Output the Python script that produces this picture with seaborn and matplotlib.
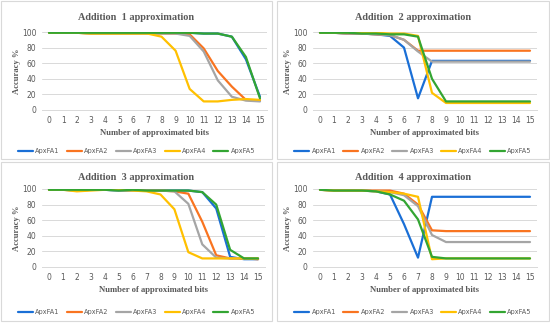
#!/usr/bin/env python3

import pandas as pd
import seaborn as sns
from matplotlib import pyplot as plt
from matplotlib.lines import Line2D
from matplotlib.patches import Rectangle

bits = list(range(16))
series_names = ["ApxFA1", "ApxFA2", "ApxFA3", "ApxFA4", "ApxFA5"]
panel_titles = ["Addition  1 approximation", "Addition  2 approximation",
                "Addition  3 approximation", "Addition  4 approximation"]
y_ticks = [0, 20, 40, 60, 80, 100]

# Addition 1
add1_fa1 = [99, 99, 99, 99, 99, 99, 99, 99, 99, 99, 99, 98, 98, 94, 65, 17]
add1_fa2 = [99, 99, 99, 98, 98, 98, 98, 98, 98, 98, 97, 79, 50, 30, 13, 12]
add1_fa3 = [99, 99, 99, 98, 98, 98, 98, 98, 98, 98, 95, 75, 38, 17, 12, 11]
add1_fa4 = [99, 99, 99, 98, 98, 98, 98, 98, 94, 76, 27, 11, 11, 13, 14, 13]
add1_fa5 = [99, 99, 99, 99, 99, 99, 99, 99, 99, 99, 99, 98, 98, 94, 68, 15]

# Addition 2
add2_fa1 = [99, 99, 98, 98, 97, 95, 80, 15, 63, 63, 63, 63, 63, 63, 63, 63]
add2_fa2 = [99, 99, 98, 98, 97, 96, 90, 76, 76, 76, 76, 76, 76, 76, 76, 76]
add2_fa3 = [99, 99, 98, 98, 97, 96, 90, 75, 62, 62, 62, 62, 62, 62, 62, 62]
add2_fa4 = [99, 99, 99, 99, 99, 98, 98, 95, 22, 9, 9, 9, 9, 9, 9, 9]
add2_fa5 = [99, 99, 99, 98, 98, 97, 97, 94, 40, 11, 11, 11, 11, 11, 11, 11]

# Addition 3
add3_fa1 = [99, 99, 98, 99, 99, 98, 98, 98, 98, 98, 98, 96, 75, 13, 10, 10]
add3_fa2 = [99, 99, 99, 99, 99, 99, 99, 98, 98, 97, 94, 58, 15, 11, 11, 10]
add3_fa3 = [99, 99, 98, 99, 99, 98, 98, 98, 98, 97, 81, 29, 12, 11, 11, 11]
add3_fa4 = [99, 99, 97, 98, 99, 99, 98, 97, 93, 74, 19, 11, 11, 11, 11, 11]
add3_fa5 = [99, 99, 99, 99, 99, 98, 99, 98, 98, 98, 98, 96, 80, 22, 11, 11]

# Addition 4
add4_fa1 = [99, 99, 99, 98, 97, 93, 55, 12, 90, 90, 90, 90, 90, 90, 90, 90]
add4_fa2 = [99, 98, 98, 98, 98, 98, 94, 80, 47, 46, 46, 46, 46, 46, 46, 46]
add4_fa3 = [99, 98, 98, 98, 97, 96, 92, 78, 41, 32, 32, 32, 32, 32, 32, 32]
add4_fa4 = [99, 98, 98, 98, 97, 96, 94, 90, 10, 11, 11, 11, 11, 11, 11, 11]
add4_fa5 = [99, 98, 98, 98, 97, 93, 85, 61, 13, 11, 11, 11, 11, 11, 11, 11]

panels = [
    [add1_fa1, add1_fa2, add1_fa3, add1_fa4, add1_fa5],
    [add2_fa1, add2_fa2, add2_fa3, add2_fa4, add2_fa5],
    [add3_fa1, add3_fa2, add3_fa3, add3_fa4, add3_fa5],
    [add4_fa1, add4_fa2, add4_fa3, add4_fa4, add4_fa5],
]

COLORS = ["#1a6fd6", "#f97420", "#a5a5a5", "#ffc000", "#33a532"]
W, H = 550, 323


def long_frame(series):
    rows = []
    for name, vals in zip(series_names, series):
        for b, v in zip(bits, vals):
            rows.append({"bits": b, "acc": v, "series": name})
    return pd.DataFrame(rows)


def main():
    sns.set_style("white")
    fig = plt.figure(figsize=(W / 100, H / 100), dpi=100)

    # panel frames (pixels: x0, y0 from top, x1, y1)
    frames = [(1, 1, 272, 159), (277, 1, 549, 159), (1, 162, 272, 321), (277, 162, 549, 321)]
    # axes boxes (pixels: left, top, right, bottom)
    boxes = [(42, 32, 267, 110), (313, 32, 537, 110), (42, 189, 265, 267), (313, 189, 537, 267)]

    for i, (series, title) in enumerate(zip(panels, panel_titles)):
        x0, y0, x1, y1 = frames[i]
        fig.patches.append(Rectangle((x0 / W, 1 - y1 / H), (x1 - x0) / W, (y1 - y0) / H,
                                     transform=fig.transFigure, fill=False,
                                     edgecolor="#d9d9d9", linewidth=0.8))

        l, t, r, b = boxes[i]
        ax = fig.add_axes([l / W, 1 - b / H, (r - l) / W, (b - t) / H])
        df = long_frame(series)
        sns.lineplot(df, x="bits", y="acc", hue="series", hue_order=series_names,
                     palette=COLORS, linewidth=1.6, legend=False, ax=ax)

        ax.set_xlim(-0.5, 15.5)
        ax.set_ylim(0, 100)
        ax.set_xticks(bits)
        ax.set_yticks(y_ticks)
        ax.tick_params(axis="both", labelsize=5.5, labelcolor="#595959", length=0, pad=4)
        ax.grid(True, axis="y", color="#d9d9d9", linewidth=0.7)
        ax.set_axisbelow(True)
        for s in ["top", "right", "left"]:
            ax.spines[s].set_visible(False)
        ax.spines["bottom"].set_color("#d9d9d9")
        ax.spines["bottom"].set_linewidth(0.7)

        ax.set_xlabel("Number of approximated bits", fontfamily="Liberation Serif",
                      fontweight="bold", fontsize=6.2, color="#595959", labelpad=3)
        ax.set_ylabel("Accuracy %", fontfamily="Liberation Serif",
                      fontweight="bold", fontsize=6.2, color="#595959", labelpad=1)

        cx = (x0 + x1) / 2
        fig.text(cx / W, 1 - (y0 + 16) / H, title, ha="center", va="center",
                 fontfamily="Liberation Serif", fontweight="bold", fontsize=7.4,
                 color="#595959")

        handles = [Line2D([], [], color=c, linewidth=1.6) for c in COLORS]
        fig.legend(handles, series_names, loc="center", ncols=5, frameon=False,
                   bbox_to_anchor=(cx / W, 1 - (y0 + 150) / H), fontsize=4.7,
                   labelcolor="#595959", handlelength=2.3, handletextpad=0.35,
                   columnspacing=1.1)

    fig.savefig("out.png", dpi=100)
    plt.close(fig)


if __name__ == '__main__':
    main()
